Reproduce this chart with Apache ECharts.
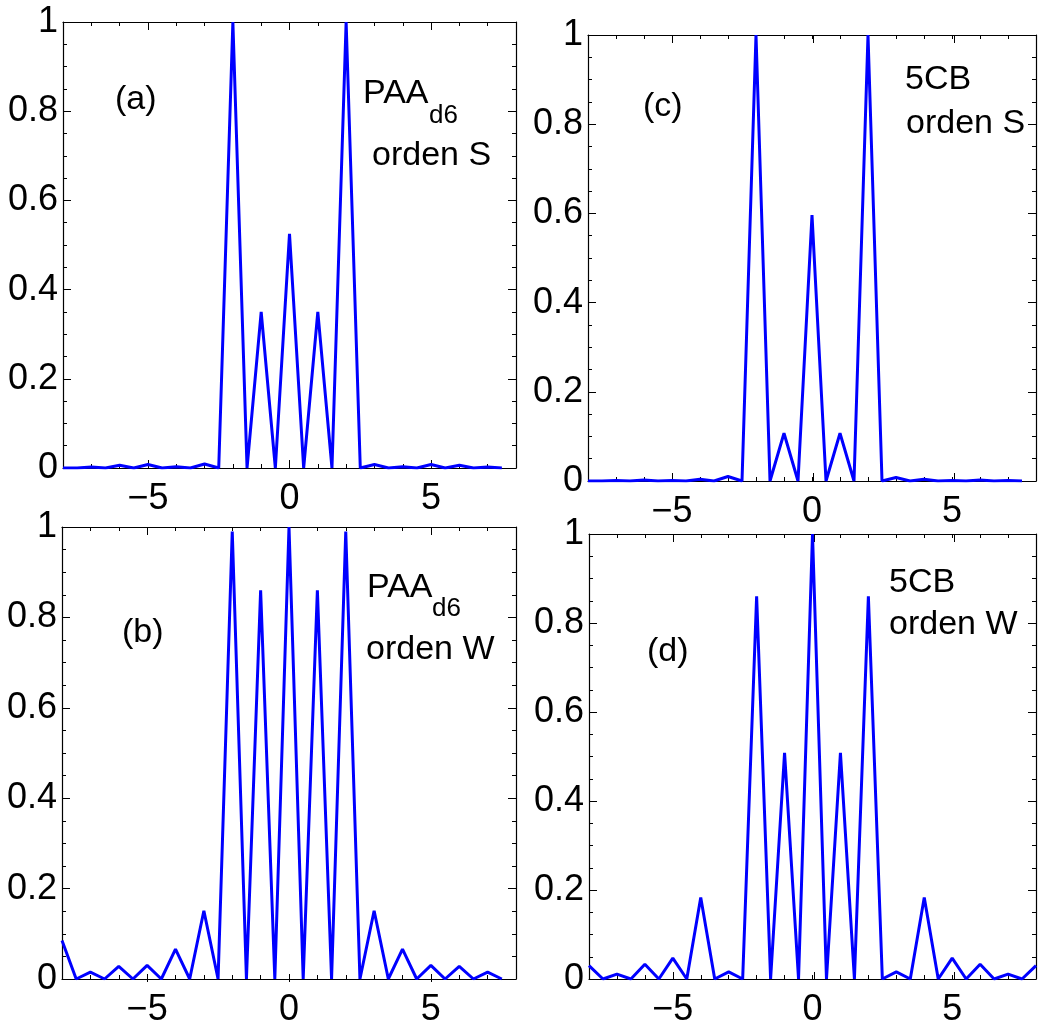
<!DOCTYPE html>
<html>
<head>
<meta charset="utf-8">
<script src="https://cdn.jsdelivr.net/npm/echarts@6/dist/echarts.min.js"></script>
<style>
html,body{margin:0;padding:0;background:#fff;}
#c{width:1039px;height:1028px;}
</style>
</head>
<body>
<div id="c"></div>
<script>
// x positions (shared)
const xs = [-8,-7.5,-7,-6.5,-6,-5.5,-5,-4.5,-4,-3.5,-3,-2.5,-2,-1.5,-1,-0.5,0,0.5,1,1.5,2,2.5,3,3.5,4,4.5,5,5.5,6,6.5,7,7.5];
const xsD = [-8,-7.5,-7,-6.5,-6,-5.5,-5,-4.5,-4,-3.5,-3,-2.5,-2,-1.5,-1,-0.5,0,0.5,1,1.5,2,2.5,3,3.5,4,4.5,5,5.5,6,6.5,7,7.5,8];

// (a) PAA d6, orden S
const valsA = [0,0,0.002,0,0.006,0,0.008,0,0.003,0,0.009,0,1.0,0,0.35,0,0.525,0,0.35,0,1.0,0,0.008,0,0.003,0,0.008,0,0.006,0,0.002,0];
// (b) PAA d6, orden W
const valsB = [0.085,0,0.015,0,0.028,0,0.03,0,0.066,0,0.151,0,0.99,0,0.86,0,1.0,0,0.86,0,0.99,0,0.151,0,0.066,0,0.03,0,0.028,0,0.015,0];
// (c) 5CB, orden S
const valsC = [0,0,0.001,0,0.002,0,0.001,0,0.004,0,0.01,0,1.0,0,0.107,0,0.596,0,0.107,0,1.0,0,0.008,0,0.004,0,0.001,0,0.002,0,0.001,0];
// (d) 5CB, orden W
const valsD = [0.03,0,0.011,0,0.033,0,0.047,0,0.183,0,0.016,0,0.86,0,0.508,0,1.0,0,0.508,0,0.86,0,0.016,0,0.183,0,0.047,0,0.033,0,0.011,0,0.03];

const xMajor = [-5,0,5];
const yTicks = [0,0.2,0.4,0.6,0.8,1];

const panels = [
  {x: xs,  v: valsA, rect: {left:63, top:22, width:453, height:446}},
  {x: xs,  v: valsB, rect: {left:62, top:527, width:454, height:455}},
  {x: xs,  v: valsC, rect: {left:588, top:35, width:453, height:446}},
  {x: xsD, v: valsD, rect: {left:589, top:534, width:453, height:446}}
];

const FONT = '"Liberation Sans", Arial, Helvetica, sans-serif';
const black = '#000';
const grids = [], xAxes = [], yAxes = [], series = [];

panels.forEach((p, i) => {
  const gMain = grids.length;
  grids.push(Object.assign({containLabel:false}, p.rect));
  const gOver = grids.length;
  grids.push(Object.assign({containLabel:false}, p.rect));

  const lineSty = {show:true, onZero:false, lineStyle:{color:black, width:1.2}};
  const noLine = {show:false, onZero:false};
  const xBase = {type:'value', min:-8, max:8, interval:1, splitLine:{show:false}};
  // main bottom x axis (minor integer ticks + labels)
  const xb = xAxes.length;
  xAxes.push(Object.assign({}, xBase, {
    gridIndex:gMain, position:'bottom',
    axisLine:lineSty,
    axisTick:{show:true, inside:true, length:4, lineStyle:{color:black, width:1}},
    axisLabel:{show:true, margin:13, color:black, fontSize:36, fontFamily:FONT,
      formatter: v => (xMajor.indexOf(v) >= 0 ? String(v).replace('-', '\u2212') : '')}
  }));
  xAxes.push(Object.assign({}, xBase, {
    gridIndex:gMain, position:'top',
    axisLine:lineSty,
    axisTick:{show:true, inside:true, length:4, lineStyle:{color:black, width:1}},
    axisLabel:{show:false}
  }));
  // overlay major ticks
  xAxes.push(Object.assign({}, xBase, {
    gridIndex:gOver, position:'bottom',
    axisLine:noLine,
    axisTick:{show:true, inside:true, length:8, customValues:xMajor, lineStyle:{color:black, width:1}},
    axisLabel:{show:false}
  }));
  xAxes.push(Object.assign({}, xBase, {
    gridIndex:gOver, position:'top',
    axisLine:noLine,
    axisTick:{show:true, inside:true, length:8, customValues:xMajor, lineStyle:{color:black, width:1}},
    axisLabel:{show:false}
  }));

  const yBase = {type:'value', min:0, max:1, interval:0.2, splitLine:{show:false},
    minorTick:{show:true, splitNumber:4, length:4, lineStyle:{color:black, width:1}},
    axisTick:{show:true, inside:true, length:8, lineStyle:{color:black, width:1}}};
  const yl = yAxes.length;
  yAxes.push(Object.assign({}, yBase, {
    gridIndex:gMain, position:'left', axisLine:lineSty,
    axisLabel:{show:true, margin:5, color:black, fontSize:36, fontFamily:FONT,
      formatter: v => String(Math.round(v*10)/10)}
  }));
  yAxes.push(Object.assign({}, yBase, {
    gridIndex:gMain, position:'right', axisLine:lineSty, axisLabel:{show:false}
  }));
  yAxes.push({type:'value', min:0, max:1, gridIndex:gOver, show:false, axisLine:noLine});

  series.push({
    type:'line', xAxisIndex:xb, yAxisIndex:yl,
    data: p.x.map((x, k) => [x, p.v[k]]),
    showSymbol:false, symbol:'none', clip:true, animation:false,
    lineStyle:{color:'#0000ff', width:3}
  });
});

function txt(text, x, y, size) {
  return {type:'text', x:x, y:y, z:100,
    style:{text:text, fill:black, font: size + 'px ' + FONT,
      align:'left', verticalAlign:'middle', textAlign:'left', textVerticalAlign:'middle'}};
}

const graphics = [
  txt('(a)', 115, 100, 34),
  txt('PAA', 363, 94, 34), txt('d6', 429, 116, 26), txt('orden S', 372, 156, 34),
  txt('(b)', 122, 633, 34),
  txt('PAA', 367, 588, 34), txt('d6', 432, 609, 26), txt('orden W', 366, 650, 34),
  txt('(c)', 643, 107, 34),
  txt('5CB', 905, 80, 34), txt('orden S', 906, 124, 34),
  txt('(d)', 647, 652, 34),
  txt('5CB', 889, 583, 34), txt('orden W', 889, 625, 34)
];

const chart = echarts.init(document.getElementById('c'), null, {renderer:'canvas'});
chart.setOption({
  animation:false,
  backgroundColor:'#fff',
  grid:grids, xAxis:xAxes, yAxis:yAxes, series:series,
  graphic:graphics
});
</script>
</body>
</html>
